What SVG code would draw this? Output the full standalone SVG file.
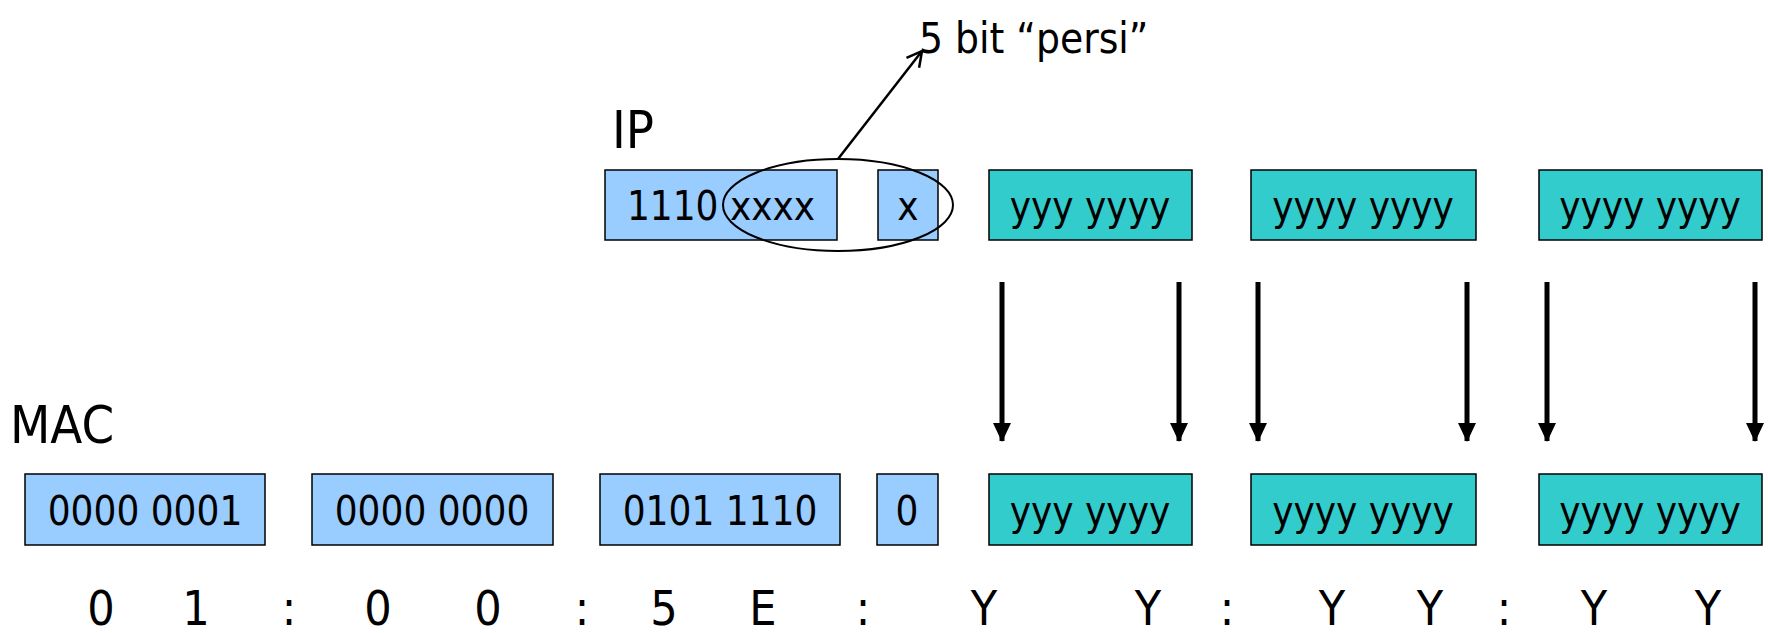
<svg xmlns="http://www.w3.org/2000/svg" width="1768" height="633" viewBox="0 0 1768 633">
<style>
text{font-family:"DejaVu Sans Condensed","DejaVu Sans",sans-serif;font-stretch:condensed;fill:#000}
.b{fill:#99ccff;stroke:#000;stroke-width:1.5}
.t{fill:#33cccc;stroke:#000;stroke-width:1.5}
.bt{font-size:40px;text-anchor:middle}
.lbl{font-size:52px}
.bot{font-size:48px;text-anchor:middle}
.arr{stroke:#000;stroke-width:5;fill:none}
</style>
<defs>
<marker id="ah" markerWidth="19" markerHeight="18" refX="18" refY="9" orient="auto" markerUnits="userSpaceOnUse" viewBox="0 0 19 18"><path d="M0,0 L19,9 L0,18 z" fill="#000"/></marker>
<marker id="oa" markerWidth="18" markerHeight="20" refX="16" refY="10" orient="auto" markerUnits="userSpaceOnUse" viewBox="0 0 18 20"><path d="M1,2 L16,10 L1,18" fill="none" stroke="#000" stroke-width="2.5"/></marker>
</defs>
<text x="919" y="53" style="font-size:42px">5 bit “persi”</text>
<text x="612" y="148" class="lbl">IP</text>
<text x="10" y="443" class="lbl">MAC</text>
<g id="ip1"><rect class="b" x="605" y="170" width="232" height="70"/><text class="bt" x="721" y="220">1110 xxxx</text></g>
<g id="ip2"><rect class="b" x="878" y="170" width="60" height="70"/><text class="bt" x="908" y="220">x</text></g>
<g id="ip3"><rect class="t" x="989" y="170" width="203" height="70"/><text class="bt" x="1090" y="220">yyy yyyy</text></g>
<g id="ip4"><rect class="t" x="1251" y="170" width="225" height="70"/><text class="bt" x="1363" y="220">yyyy yyyy</text></g>
<g id="ip5"><rect class="t" x="1539" y="170" width="223" height="70"/><text class="bt" x="1650" y="220">yyyy yyyy</text></g>
<g id="m1"><rect class="b" x="25" y="474" width="240" height="71"/><text class="bt" x="145" y="525">0000 0001</text></g>
<g id="m2"><rect class="b" x="312" y="474" width="241" height="71"/><text class="bt" x="432" y="525">0000 0000</text></g>
<g id="m3"><rect class="b" x="600" y="474" width="240" height="71"/><text class="bt" x="720" y="525">0101 1110</text></g>
<g id="m4"><rect class="b" x="877" y="474" width="61" height="71"/><text class="bt" x="907" y="525">0</text></g>
<g id="m5"><rect class="t" x="989" y="474" width="203" height="71"/><text class="bt" x="1090" y="525">yyy yyyy</text></g>
<g id="m6"><rect class="t" x="1251" y="474" width="225" height="71"/><text class="bt" x="1363" y="525">yyyy yyyy</text></g>
<g id="m7"><rect class="t" x="1539" y="474" width="223" height="71"/><text class="bt" x="1650" y="525">yyyy yyyy</text></g>
<g id="ellipse"><ellipse cx="838" cy="205" rx="115" ry="46" fill="none" stroke="#000" stroke-width="2"/></g>
<g id="connectors">
<line x1="838" y1="159" x2="922" y2="51" stroke="#000" stroke-width="2.5" marker-end="url(#oa)"/>
<line class="arr" x1="1002" y1="282" x2="1002" y2="441" marker-end="url(#ah)"/>
<line class="arr" x1="1179" y1="282" x2="1179" y2="441" marker-end="url(#ah)"/>
<line class="arr" x1="1258" y1="282" x2="1258" y2="441" marker-end="url(#ah)"/>
<line class="arr" x1="1467" y1="282" x2="1467" y2="441" marker-end="url(#ah)"/>
<line class="arr" x1="1547" y1="282" x2="1547" y2="441" marker-end="url(#ah)"/>
<line class="arr" x1="1755" y1="282" x2="1755" y2="441" marker-end="url(#ah)"/>
</g>
<g id="bottom">
<text class="bot" x="101" y="625">0</text>
<text class="bot" x="196" y="625">1</text>
<text class="bot" x="289" y="625">:</text>
<text class="bot" x="378" y="625">0</text>
<text class="bot" x="488" y="625">0</text>
<text class="bot" x="582" y="625">:</text>
<text class="bot" x="664" y="625">5</text>
<text class="bot" x="763" y="625">E</text>
<text class="bot" x="863" y="625">:</text>
<text class="bot" x="984" y="625">Y</text>
<text class="bot" x="1148" y="625">Y</text>
<text class="bot" x="1227" y="625">:</text>
<text class="bot" x="1332" y="625">Y</text>
<text class="bot" x="1430" y="625">Y</text>
<text class="bot" x="1504" y="625">:</text>
<text class="bot" x="1594" y="625">Y</text>
<text class="bot" x="1708" y="625">Y</text>
</g>
</svg>
